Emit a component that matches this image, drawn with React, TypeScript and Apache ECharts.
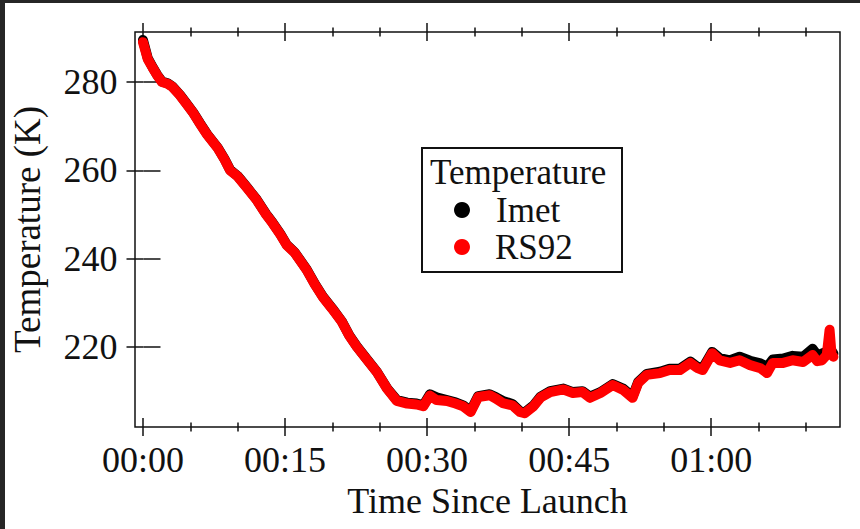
import React, { useEffect, useRef } from "react";
import * as echarts from "echarts";

// Time since launch in minutes
const TIME_MIN = [
  0, 0.5, 1.0, 1.5, 2.0, 2.6, 3.1, 3.9, 4.6, 5.3, 6.0, 6.8, 7.9, 8.6, 9.2, 10.0,
  11.0, 12.0, 13.0, 13.7, 14.5, 15.2, 16.0, 17.3, 18.2, 19.0, 20.0, 21.0, 21.8,
  22.6, 23.7, 24.7, 25.8, 26.8, 27.9, 28.9, 29.6, 30.3, 31.0, 32.1, 33.0, 33.8,
  34.6, 35.4, 36.6, 37.3, 38.0, 39.0, 39.8, 40.3, 41.2, 42.0, 43.0, 44.4, 45.4,
  46.4, 47.2, 48.3, 49.6, 50.7, 51.7, 52.3, 53.2, 54.6, 55.6, 56.7, 57.8, 58.5,
  59.1, 60.1, 60.9, 62.0, 63.0, 64.1, 65.2, 65.9, 66.5, 67.6, 68.6, 69.7, 70.7,
  71.2, 71.7, 72.2, 72.5, 72.7, 72.9,
];

// RS92 temperature (K)
const RS92_K = [
  289.0, 285.2, 283.3, 281.5, 280.0, 279.6, 278.9, 277.0, 275.0, 273.0, 270.6,
  268.0, 265.0, 262.5, 260.0, 258.6, 256.0, 253.3, 250.0, 248.0, 245.5, 243.0,
  241.4, 237.4, 234.0, 231.3, 228.6, 225.7, 222.5, 220.0, 217.0, 214.3, 210.5,
  207.8, 207.2, 207.0, 206.6, 209.0, 208.0, 207.8, 207.2, 206.6, 205.3, 208.7,
  209.1, 208.3, 207.3, 206.8, 205.3, 205.0, 206.5, 208.6, 209.8, 210.4, 209.6,
  209.8, 208.5, 209.6, 211.4, 210.3, 208.5, 211.9, 213.7, 214.1, 214.8, 214.8,
  216.4, 215.3, 214.8, 218.6, 217.0, 216.4, 217.0, 215.9, 215.2, 214.1, 216.4,
  216.4, 217.0, 216.6, 218.2, 216.8, 217.0, 218.2, 223.9, 218.5, 217.8,
];

// Imet temperature (K)
const IMET_K = [
  289.5, 285.4, 283.4, 281.6, 280.1, 279.7, 279.0, 277.1, 275.1, 273.1, 270.7,
  268.1, 265.1, 262.6, 260.1, 258.7, 256.1, 253.4, 250.1, 248.1, 245.6, 243.1,
  241.5, 237.5, 234.1, 231.4, 228.7, 225.8, 222.6, 220.1, 217.1, 214.4, 210.6,
  208.0, 207.4, 207.2, 206.8, 209.3, 208.6, 208.0, 207.5, 206.8, 205.5, 208.9,
  209.3, 208.6, 207.8, 207.1, 205.5, 205.2, 206.7, 208.8, 210.0, 210.6, 209.8,
  210.0, 208.8, 209.8, 211.6, 210.6, 208.8, 212.1, 213.9, 214.4, 215.1, 215.1,
  216.7, 215.6, 215.2, 218.9, 217.5, 217.0, 217.8, 216.9, 216.3, 215.5, 217.2,
  217.4, 218.0, 217.8, 219.6, 218.2, 218.5, 219.0, 219.5, 219.2, 218.5,
];

const X_MAJOR = [0, 15, 30, 45, 60];
const X_MINOR = [5, 10, 20, 25, 35, 40, 50, 55, 65, 70];
const Y_MAJOR = [220, 240, 260, 280];

const X_MIN = -0.84;
const X_MAX = 73.6;
const Y_MIN = 201.9;
const Y_MAX = 291.3;

const FONT = '"Liberation Serif", "Times New Roman", serif';
const INK = "#111";

const fmtTime = (v: number) => {
  const m = Math.round(v);
  const h = Math.floor(m / 60);
  const mm = m % 60;
  return `${String(h).padStart(2, "0")}:${String(mm).padStart(2, "0")}`;
};

function xTickAxis(position: "top" | "bottom", values: number[], half: number, labels: boolean, extra: any = {}) {
  return {
    type: "value",
    gridIndex: 0,
    position,
    offset: -half,
    min: X_MIN,
    max: X_MAX,
    axisLine: { show: false },
    splitLine: { show: false },
    axisTick: {
      show: true,
      customValues: values,
      length: half * 2,
      lineStyle: { color: INK, width: 1.5 },
    },
    axisLabel: labels
      ? {
          show: true,
          customValues: values,
          formatter: (v: number) => fmtTime(v),
          margin: 24,
          fontFamily: FONT,
          fontSize: 36,
          color: INK,
        }
      : { show: false },
    ...extra,
  };
}

function yTickAxis(position: "left" | "right", labels: boolean, extra: any = {}) {
  const half = 8.5;
  return {
    type: "value",
    gridIndex: 0,
    position,
    offset: -half,
    min: Y_MIN,
    max: Y_MAX,
    axisLine: { show: false },
    splitLine: { show: false },
    axisTick: {
      show: true,
      customValues: Y_MAJOR,
      length: half * 2,
      lineStyle: { color: INK, width: 1.5 },
    },
    axisLabel: labels
      ? {
          show: true,
          customValues: Y_MAJOR,
          margin: 26,
          fontFamily: FONT,
          fontSize: 36,
          color: INK,
        }
      : { show: false },
    ...extra,
  };
}

export default function App() {
  const ref = useRef<HTMLDivElement>(null);

  useEffect(() => {
    document.body.style.margin = "0";
    document.body.style.overflow = "hidden";
    const chart = echarts.init(ref.current!, null, { renderer: "svg" });

    const option: any = {
      animation: false,
      backgroundColor: "#ffffff",
      grid: {
        left: 135,
        right: 20,
        top: 32,
        bottom: 102,
        show: true,
        borderColor: INK,
        borderWidth: 1.5,
        backgroundColor: "transparent",
        containLabel: false,
      },
      xAxis: [
        xTickAxis("bottom", X_MAJOR, 9, true, {
          name: "Time Since Launch",
          nameLocation: "middle",
          nameGap: 60,
          nameTextStyle: { fontFamily: FONT, fontSize: 36, color: INK },
        }),
        xTickAxis("bottom", X_MINOR, 4.5, false),
        xTickAxis("top", X_MAJOR, 9, false),
        xTickAxis("top", X_MINOR, 4.5, false),
      ],
      yAxis: [
        yTickAxis("left", true, {
          name: "Temperature (K)",
          nameLocation: "middle",
          nameGap: 98,
          nameRotate: 90,
          nameTextStyle: { fontFamily: FONT, fontSize: 37, color: INK },
        }),
        yTickAxis("right", false),
      ],
      series: [
        {
          name: "Imet",
          type: "line",
          xAxisIndex: 0,
          yAxisIndex: 0,
          showSymbol: false,
          symbol: "none",
          data: TIME_MIN.map((t, i) => [t, IMET_K[i]]),
          lineStyle: { color: "#000000", width: 10, cap: "round", join: "round" },
          itemStyle: { color: "#000000" },
          z: 2,
        },
        {
          name: "RS92",
          type: "line",
          xAxisIndex: 0,
          yAxisIndex: 0,
          showSymbol: false,
          symbol: "none",
          data: TIME_MIN.map((t, i) => [t, RS92_K[i]]),
          lineStyle: { color: "#ff0000", width: 10, cap: "round", join: "round" },
          itemStyle: { color: "#ff0000" },
          z: 3,
        },
      ],
      graphic: [
        { type: "rect", shape: { x: 0, y: 0, width: 860, height: 3 }, style: { fill: "#262626" }, z: 100 },
        { type: "rect", shape: { x: 0, y: 0, width: 5, height: 529 }, style: { fill: "#262626" }, z: 100 },
        {
          type: "group",
          z: 50,
          children: [
            {
              type: "rect",
              shape: { x: 422, y: 148, width: 200, height: 124 },
              style: { fill: "#ffffff", stroke: INK, lineWidth: 2 },
            },
            {
              type: "text",
              style: { text: "Temperature", x: 430, y: 172, fontFamily: FONT, fontSize: 35, fill: INK, align: "left", verticalAlign: "middle" },
            },
            { type: "circle", shape: { cx: 462, cy: 210, r: 8 }, style: { fill: "#000000" } },
            {
              type: "text",
              style: { text: "Imet", x: 496, y: 210, fontFamily: FONT, fontSize: 35, fill: INK, align: "left", verticalAlign: "middle" },
            },
            { type: "circle", shape: { cx: 462, cy: 247, r: 8 }, style: { fill: "#ff0000" } },
            {
              type: "text",
              style: { text: "RS92", x: 495, y: 247, fontFamily: FONT, fontSize: 35, fill: INK, align: "left", verticalAlign: "middle" },
            },
          ],
        },
      ],
    };

    chart.setOption(option);
    return () => chart.dispose();
  }, []);

  return <div ref={ref} style={{ width: 860, height: 529 }} />;
}
